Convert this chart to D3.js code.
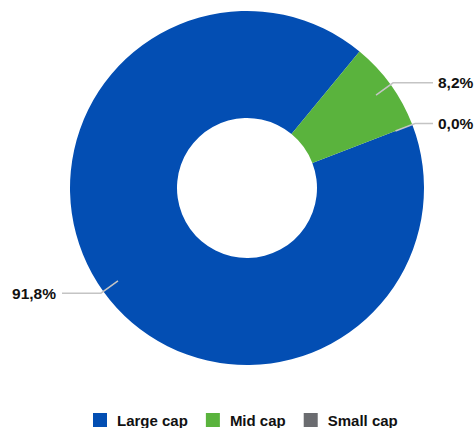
<!DOCTYPE html>
<html><head><meta charset="utf-8">
<script src="https://cdn.jsdelivr.net/npm/d3@7"></script>
<style>body{margin:0;background:#fff}svg{display:block}</style>
</head><body>
<script>
const categories = ["Large cap", "Mid cap", "Small cap"];
const values = [91.8, 8.2, 0.0];
const labels = ["91,8%", "8,2%", "0,0%"];
const colors = ["#034EB3", "#5AB33D", "#6B6C70"];

const W = 476, H = 428;
const cx = 247, cy = 188, R = 177, r0 = 70;
const startDeg = 69;

const svg = d3.select("body").append("svg").attr("width", W).attr("height", H);
const g = svg.append("g").attr("transform", `translate(${cx},${cy})`);

const pie = d3.pie().sort(null).value(d => d)
  .startAngle(startDeg * Math.PI / 180)
  .endAngle(startDeg * Math.PI / 180 + 2 * Math.PI);
const arcs = pie(values);
const arc = d3.arc().innerRadius(r0).outerRadius(R);

g.selectAll("path.slice").data(arcs).enter().append("path")
  .attr("class", "slice")
  .attr("d", arc)
  .attr("fill", (d, i) => colors[i]);

// leader lines and labels
arcs.forEach((d, i) => {
  const a = (d.startAngle + d.endAngle) / 2;
  const p1 = [159 * Math.sin(a), -159 * Math.cos(a)];
  const p2 = [180 * Math.sin(a), -180 * Math.cos(a)];
  const right = Math.sin(a) >= 0;
  const xEnd = right ? 433 - cx : 62 - cx;
  g.append("polyline")
    .attr("points", [p1, p2, [xEnd, p2[1]]].map(p => p.join(",")).join(" "))
    .attr("fill", "none").attr("stroke", "#c4c4c4").attr("stroke-width", 1.5);
  g.append("text")
    .attr("x", right ? xEnd + 5 : xEnd - 6)
    .attr("y", p2[1] + 5.5)
    .attr("text-anchor", right ? "start" : "end")
    .attr("font-family", "Liberation Sans, Arial, sans-serif")
    .attr("font-weight", "bold")
    .attr("font-size", 15.5)
    .attr("fill", "#111")
    .text(labels[i]);
});

// legend
const legend = svg.append("g");
const sq = 14, gap = 10, itemGap = 18;
const items = legend.selectAll("g.item").data(categories).enter().append("g").attr("class", "item");
items.append("rect").attr("width", sq).attr("height", sq).attr("y", 413)
  .attr("fill", (d, i) => colors[i]);
items.append("text").attr("x", sq + gap).attr("y", 425.5)
  .attr("font-family", "Liberation Sans, Arial, sans-serif")
  .attr("font-weight", "bold").attr("font-size", 15)
  .attr("fill", "#111").text(d => d);
const widths = [];
items.each(function () { widths.push(this.getBBox().width); });
let x = 93;
items.attr("transform", (d, i) => {
  const t = `translate(${x},0)`;
  x += widths[i] + itemGap;
  return t;
});
</script>
</body></html>
